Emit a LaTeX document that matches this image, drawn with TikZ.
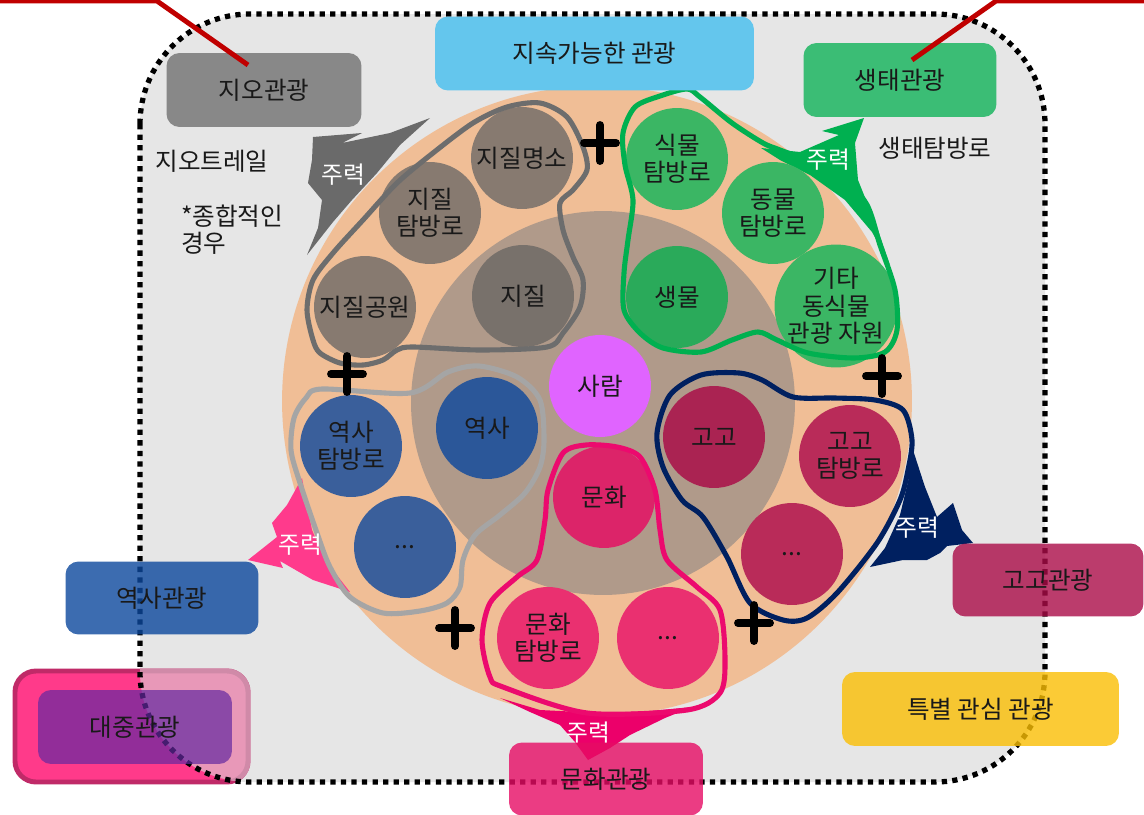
\documentclass[tikz,border=0pt]{standalone}
\usepackage{fontspec}
\setmainfont{Noto Sans CJK KR}
\definecolor{bgray}{RGB}{230,230,230}
\definecolor{peach}{RGB}{240,190,150}
\definecolor{innerb}{RGB}{176,154,138}
\definecolor{geoC}{RGB}{135,122,112}
\definecolor{geoI}{RGB}{120,113,107}
\definecolor{grnC}{RGB}{59,182,100}
\definecolor{grnI}{RGB}{42,170,90}
\definecolor{bluC}{RGB}{58,95,155}
\definecolor{bluI}{RGB}{43,87,153}
\definecolor{redC}{RGB}{185,43,89}
\definecolor{redI}{RGB}{170,35,82}
\definecolor{culC}{RGB}{234,48,112}
\definecolor{culI}{RGB}{220,36,105}
\definecolor{person}{RGB}{224,100,255}
\definecolor{geoBox}{RGB}{136,136,136}
\definecolor{susBox}{RGB}{100,198,237}
\definecolor{ecoBox}{RGB}{59,189,117}
\definecolor{hisBox}{RGB}{12,72,157}
\definecolor{arcBox}{RGB}{170,12,72}
\definecolor{spcBox}{RGB}{250,191,4}
\definecolor{culBox}{RGB}{230,12,100}
\definecolor{massOut}{RGB}{255,58,138}
\definecolor{massOutB}{RGB}{192,42,104}
\definecolor{massPale}{RGB}{232,152,184}
\definecolor{massPaleB}{RGB}{208,138,168}
\definecolor{massIn}{RGB}{100,40,160}
\definecolor{loopGeo}{RGB}{109,109,109}
\definecolor{loopHis}{RGB}{165,165,165}
\definecolor{loopGrn}{RGB}{0,176,80}
\definecolor{loopArc}{RGB}{0,32,96}
\definecolor{loopCul}{RGB}{236,10,110}
\definecolor{arrGeo}{RGB}{106,106,106}
\definecolor{arrHis}{RGB}{255,58,140}
\definecolor{arrCul}{RGB}{236,0,106}
\definecolor{redline}{RGB}{192,0,0}
\begin{document}
\begin{tikzpicture}[x=0.02cm,y=-0.02cm,
  kr/.style={font=\fontsize{14}{15.5}\selectfont, text=black!90},
  rc/.style={circle, inner sep=0pt, minimum size=2.04cm, align=center, kr},
  tbox/.style={rectangle, rounded corners=0.26cm, inner sep=0pt, align=center, kr},
  zhu/.style={font=\fontsize{13.5}{15}\selectfont, text=white},
  loopl/.style={line width=2.9pt, line join=round},
  region/.style={rounded corners=2.2cm},
  semibox/.style={fill opacity=0.8, text opacity=1},
  plussign/.pic={\draw[line width=4.5pt, line cap=round, black] (-16,0) -- (16,0) (0,-18) -- (0,18);}
]
\useasboundingbox (0,0) rectangle (1144,815);
\fill[white] (0,0) rectangle (1144,815);

% region
\fill[bgray, region] (140,14) rectangle (1045,782);
% mass tourism outer box
\draw[fill=massOut, draw=massOutB, line width=2.8pt, rounded corners=0.42cm] (15,671) rectangle (248,782);
\begin{scope}
  \clip[region] (140,14) rectangle (1045,782);
  \draw[fill=massPale, draw=massPaleB, line width=2.8pt, rounded corners=0.42cm] (15,671) rectangle (248,782);
\end{scope}
\draw[line width=3pt, dash pattern=on 3pt off 3pt, region] (140,14) rectangle (1045,782);

% big circles
\node[circle, minimum size=12.6cm, inner sep=0pt, fill=peach] (big) at (597,401) {};
\node[circle, minimum size=7.68cm, inner sep=0pt, fill=innerb] (inner) at (603,403) {};

% arrows
\fill[arrGeo] (313,137) -- (362,133) -- (342,143) -- (390,133) -- (430,118) -- (400,145) -- (377,173) -- (352,200) -- (333,222) -- (307,255) -- (318,228) -- (322,200) -- (308,183) -- (312,160) -- cycle;
\fill[loopGrn] (761,148) -- (800,152) -- (839,135) -- (822,131) -- (864,118) -- (855,143) -- (858,180) -- (878,230) -- (890,265) -- (872,232) -- (845,200) -- (810,175) -- (780,160) -- cycle;
\fill[arrHis] (302,478) -- (287,505) -- (272,523) -- (277,537) -- (248,560) -- (283,568) -- (280,561) -- (313,580) -- (350,592) -- (325,560) -- (312,530) -- (306,500) -- cycle;
\fill[loopArc] (913,450) -- (925,487) -- (937,517) -- (953,503) -- (962,530) -- (973,543) -- (947,546) -- (940,553) -- (927,560) -- (903,560) -- (870,567) -- (885,548) -- (900,515) -- (908,482) -- cycle;
\fill[arrCul] (500,698) -- (540,710) -- (600,713) -- (650,711) -- (692,707) -- (665,718) -- (630,735) -- (610,748) -- (588,760) -- (575,742) -- (560,725) -- (530,712) -- cycle;

% circles
\node[rc, fill=person] (saram) at (600,386) {사람};
\node[rc, fill=geoC] (gmyeong) at (522,158) {지질명소};
\node[rc, fill=geoC] (gtam) at (430,213) {지질\\탐방로};
\node[rc, fill=geoC] (gpark) at (365,307) {지질공원};
\node[rc, fill=geoI] (geo) at (523,296) {지질};
\node[rc, fill=grnC] (plant) at (677,159) {식물\\탐방로};
\node[rc, fill=grnC] (animal) at (773,213) {동물\\탐방로};
\node[rc, fill=grnC] (etc) at (836,306) {기타\\동식물\\관광 자원};
\node[rc, fill=grnI] (bio) at (677,297) {생물};
\node[rc, fill=bluC] (htam) at (351,446) {역사\\탐방로};
\node[rc, fill=bluC] (hdot) at (405,547) {...};
\node[rc, fill=bluI] (hist) at (487,428) {역사};
\node[rc, fill=redI] (arch) at (714,437) {고고};
\node[rc, fill=redC] (atam) at (850,456) {고고\\탐방로};
\node[rc, fill=redC] (adot) at (792,554) {...};
\node[rc, fill=culI] (cul) at (604,497) {문화};
\node[rc, fill=culC] (ctam) at (548,638) {문화\\탐방로};
\node[rc, fill=culC] (cdot) at (668,638) {...};

% loops
\draw[loopl, loopGeo] plot[smooth cycle, tension=0.5] coordinates {(313,340) (307,310) (313,280) (333,253) (363,220) (397,183) (433,153) (473,123) (507,107) (540,103) (567,117) (583,147) (587,170) (573,190) (560,203) (563,230) (573,257) (583,280) (580,307) (563,333) (547,347) (480,350) (413,347) (397,350) (383,360) (363,365) (340,363) (320,353)};
\draw[loopl, loopHis] plot[smooth cycle, tension=0.5] coordinates {(322,389) (410,393) (448,372) (479,366) (517,377) (540,400) (544,440) (540,467) (525,493) (500,515) (475,535) (463,560) (460,587) (447,603) (420,611) (383,613) (350,597) (330,567) (317,533) (300,483) (291,450) (294,418) (306,398)};
\draw[loopl, loopGrn] plot[smooth cycle, tension=0.5] coordinates {(687,89) (660,96) (635,107) (623,133) (625,165) (633,200) (628,240) (624,273) (624,310) (640,333) (663,348) (701,352) (732,340) (758,332) (777,340) (808,353) (854,358) (885,352) (897,330) (895,290) (880,245) (864,200) (822,167) (780,150) (763,143) (732,123) (700,97)};
\draw[loopl, loopArc] plot[smooth cycle, tension=0.5] coordinates {(701,375) (739,373) (762,380) (793,397) (835,398) (875,400) (903,410) (912,440) (908,470) (900,500) (877,543) (837,593) (807,618) (783,620) (750,603) (727,557) (703,517) (682,500) (663,467) (657,433) (670,395)};
\draw[loopl, loopCul] plot[smooth cycle, tension=0.5] coordinates {(548,490) (563,453) (586,445) (617,447) (640,457) (655,490) (660,530) (667,560) (697,587) (720,610) (725,660) (720,693) (687,710) (587,713) (503,687) (490,677) (482,640) (490,603) (517,577) (537,560) (545,520)};

% plus signs
\pic at (600,143) {plussign};
\pic at (347,374) {plussign};
\pic at (882,376) {plussign};
\pic at (455,628) {plussign};
\pic at (754,623) {plussign};

% arrow labels
\node[zhu] (zg) at (343,175) {주력};
\node[zhu] (ze) at (828,160) {주력};
\node[zhu] (zh) at (300,545) {주력};
\node[zhu] (za) at (917,528) {주력};
\node[zhu] (zc) at (588,733) {주력};

% free texts
\node[kr] (geotrail) at (212,161) {지오트레일};
\node[kr, anchor=west, align=left] (comp) at (175,230) {*종합적인\\경우};
\node[kr] (ecotrail) at (935,148) {생태탐방로};

% boxes
\node[tbox, fill=geoBox, minimum width=3.9cm, minimum height=1.48cm] (geoT) at (264,90) {지오관광};
\node[tbox, fill=susBox, minimum width=6.38cm, minimum height=1.48cm] (sus) at (594.5,53.5) {지속가능한 관광};
\node[tbox, fill=ecoBox, minimum width=3.86cm, minimum height=1.48cm] (eco) at (900,80) {생태관광};
\node[tbox, semibox, fill=hisBox, minimum width=3.86cm, minimum height=1.46cm] (hisT) at (162,598) {역사관광};
\node[tbox, semibox, fill=arcBox, minimum width=3.82cm, minimum height=1.46cm] (arcT) at (1048,580) {고고관광};
\node[tbox, semibox, fill=spcBox, minimum width=5.54cm, minimum height=1.48cm] (spcT) at (980.5,709) {특별 관심 관광};
\node[tbox, semibox, fill=culBox, minimum width=3.88cm, minimum height=1.46cm] (culT) at (606,779) {문화관광};
\node[tbox, fill=massIn, fill opacity=0.7, text opacity=1, minimum width=3.88cm, minimum height=1.48cm] (massT) at (135,727) {대중관광};

% red lines
\coordinate (rl0) at (0,1);
\coordinate (rl1) at (157,1);
\coordinate (rr0) at (1144,1);
\coordinate (rr1) at (996,1);
\draw[redline, line width=2.8pt] (rl0) -- (rl1) -- ([shift={(-16,-25)}]geoT.center);
\draw[redline, line width=2.8pt] (rr0) -- (rr1) -- ([shift={(12,-20)}]eco.center);
\end{tikzpicture}
\end{document}
